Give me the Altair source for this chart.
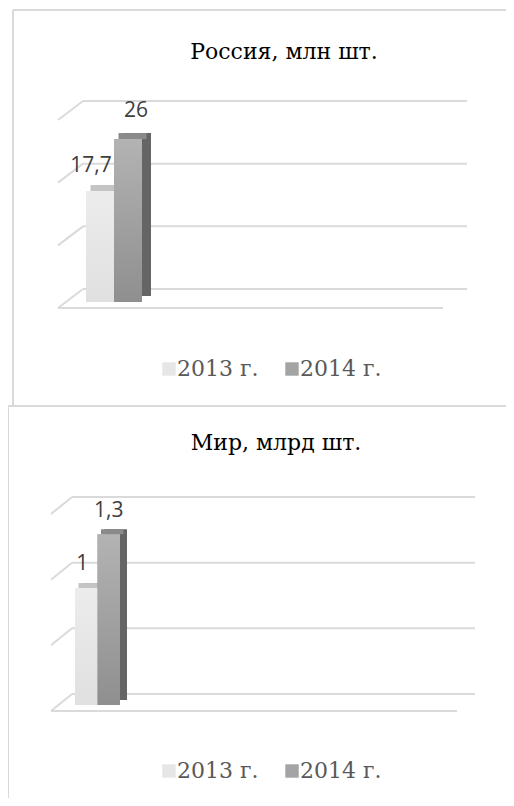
import altair as alt
import pandas as pd

# ---- data ----
series = ["2013 г.", "2014 г."]
titles = ["Россия, млн шт.", "Мир, млрд шт."]
russia_values = [17.7, 26]
russia_labels = ["17,7", "26"]
world_values = [0.89, 1.3]
world_labels = ["1", "1,3"]
russia_ticks = [0, 10, 20, 30]
world_ticks = [0, 0.5, 1, 1.5]

# ---- styles ----
front_colors = ["#e6e6e6", "#a4a4a4"]
front_top = ["#ececec", "#b3b3b3"]
front_bottom = ["#e0e0e0", "#8f8f8f"]
top_colors = ["#c4c4c4", "#8a8a8a"]
side_colors = ["#b4b4b4", "#656565"]
GRID = "#dadada"
FRAME = "#d9d9d9"
SERIF = "DejaVu Serif"
SANS = "Open Sans"


def panel(title, values, labels, ticks, c):
    df = pd.DataFrame({"series": series, "value": values, "label": labels})
    gdf = pd.DataFrame({"v": ticks})
    tdf = pd.DataFrame({"t": [title]})
    ysc = alt.Scale(domain=[ticks[0], ticks[-1]], range=c["yrange"], nice=False, zero=True)
    xsc = alt.Scale(domain=series, range=c["xrange"], paddingInner=0, paddingOuter=0)
    Yg = alt.Y("v:Q", scale=ysc, axis=None)
    X = alt.X("series:N", scale=xsc, axis=None)
    Yb = alt.Y("value:Q", scale=ysc, axis=None)
    bw = (c["xrange"][1] - c["xrange"][0]) / len(series)

    grid = alt.Chart(gdf).mark_rule(color=GRID, strokeWidth=2, yOffset=-c["back"]).encode(
        x=alt.value(c["gx0"]), x2=alt.value(c["gx1"]), y=Yg)
    diag = alt.Chart(gdf).mark_rule(color=GRID, strokeWidth=2, yOffset=c["front"],
                                    y2Offset=-c["back"]).encode(
        x=alt.value(c["fx0"]), x2=alt.value(c["gx0"]), y=Yg, y2="v:Q")
    floor = alt.Chart(gdf).transform_filter(alt.datum.v == ticks[0]).mark_rule(
        color=GRID, strokeWidth=2, yOffset=c["front"]).encode(
        x=alt.value(c["fx0"]), x2=alt.value(c["fx1"]), y=Yg)

    side = alt.Chart(df).mark_bar(xOffset=c["dx"], yOffset=-c["dy"]).encode(
        x=X, y=Yb,
        color=alt.Color("series:N", scale=alt.Scale(domain=series, range=side_colors), legend=None))
    top = alt.Chart(df).mark_tick(thickness=c["dy"], size=bw, xOffset=c["dx"] / 2,
                                  yOffset=-c["dy"] / 2, opacity=1).encode(
        x=X, y=Yb,
        color=alt.Color("series:N", scale=alt.Scale(domain=series, range=top_colors), legend=None))
    bars = alt.Chart(df).mark_bar(opacity=1).encode(
        x=X, y=Yb,
        color=alt.Color("series:N", scale=alt.Scale(domain=series, range=front_colors),
                        legend=alt.Legend(orient="none", legendX=c["lx"], legendY=c["ly"],
                                          direction="horizontal", title=None,
                                          symbolType="square", symbolSize=180,
                                          symbolStrokeWidth=0, symbolOpacity=1,
                                          labelFont=SERIF, labelFontSize=22,
                                          labelColor="#595959",
                                          labelOffset={"expr": "-3"},
                                          columnPadding=22, padding=0)))
    shades = []
    for s, t0, t1 in zip(series, front_top, front_bottom):
        grad = alt.Gradient(gradient="linear",
                            stops=[alt.GradientStop(color=t0, offset=0),
                                   alt.GradientStop(color=t1, offset=1)],
                            x1=0, x2=0, y1=0, y2=1)
        shades.append(alt.Chart(df).transform_filter(alt.datum.series == s)
                      .mark_bar(color=grad, opacity=1).encode(x=X, y=Yb))
    texts = []
    for s, (ddx, ddy) in zip(series, c["lab"]):
        texts.append(alt.Chart(df).transform_filter(alt.datum.series == s).mark_text(
            font=SANS, fontSize=21, color="#404040", baseline="alphabetic",
            dx=ddx, dy=ddy).encode(x=X, y=Yb, text="label:N"))
    ttl = alt.Chart(tdf).mark_text(font=SERIF, fontSize=22, color="#000000",
                                   baseline="alphabetic", align="center").encode(
        x=alt.value(c["tx"]), y=alt.value(c["ty"]), text="t:N")
    return alt.layer(grid, diag, floor, side, top, bars, *shades, *texts, ttl
                     ).resolve_scale(color="independent")


c1 = dict(yrange=[294, 106], xrange=[78, 134], back=13, front=6, gx0=75, gx1=459,
          fx0=50, fx1=435, dx=9, dy=6, lab=[(-9, -19), (8, -22)],
          tx=276, ty=51, lx=150, ly=350)
c2 = dict(yrange=[697, 500], xrange=[67, 112], back=11, front=6, gx0=64, gx1=467,
          fx0=43, fx1=449, dx=7, dy=5, lab=[(-4, -18), (0, -17)],
          tx=268, ty=442, lx=150, ly=752)

p1 = panel(titles[0], russia_values, russia_labels, russia_ticks, c1)
p2 = panel(titles[1], world_values, world_labels, world_ticks, c2)

fdf = pd.DataFrame({"k": [0]})
frame_a = alt.Chart(fdf).mark_rule(color=FRAME, strokeWidth=2).encode(
    x=alt.value(5), y=alt.value(2), y2=alt.value(397))
frame_b = alt.Chart(fdf).mark_rule(color=FRAME, strokeWidth=2).encode(
    x=alt.value(5), x2=alt.value(520), y=alt.value(2))
frame_c = alt.Chart(fdf).mark_rule(color=FRAME, strokeWidth=2).encode(
    x=alt.value(0), x2=alt.value(520), y=alt.value(398))
frame_d = alt.Chart(fdf).mark_rule(color=FRAME, strokeWidth=2).encode(
    x=alt.value(0), y=alt.value(398), y2=alt.value(790))

chart = alt.layer(frame_a, frame_b, frame_c, frame_d, p1, p2).resolve_scale(
    x="independent", y="independent", color="independent"
).properties(width=498, height=790, padding=0, autosize="none",
             background="#ffffff").configure_view(strokeWidth=0, stroke="transparent")

chart.save("out.html", embed_options={"renderer": "svg", "actions": False})
